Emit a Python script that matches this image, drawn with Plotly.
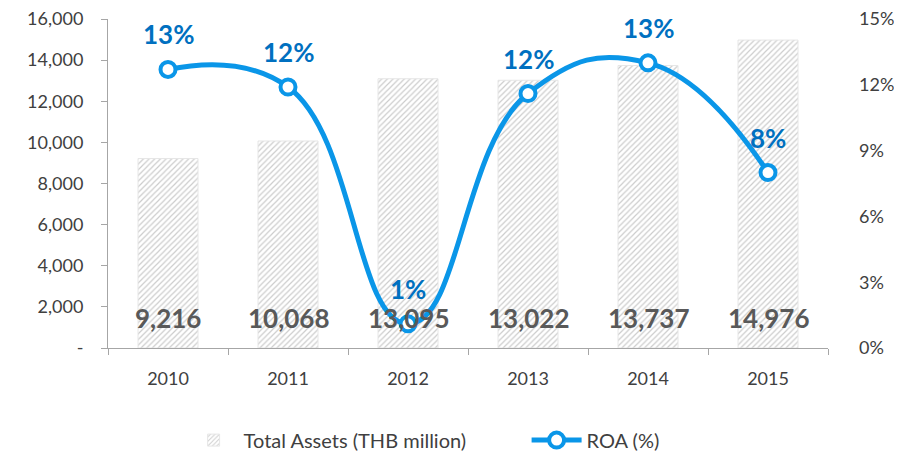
import plotly.graph_objects as go

years = ["2010", "2011", "2012", "2013", "2014", "2015"]
total_assets = [9216, 10068, 13095, 13022, 13737, 14976]
roa = [12.7, 11.9, 1.1, 11.6, 13.0, 8.0]

left_ticks = [0, 2000, 4000, 6000, 8000, 10000, 12000, 14000, 16000]
left_tick_text = ["-"] + [f"{v:,}" for v in left_ticks[1:]]
right_ticks = [0, 3, 6, 9, 12, 15]
right_tick_text = [f"{v}%" for v in right_ticks]

FONT = "Lato"
BLUE = "#0a96e8"

fig = go.Figure()

fig.add_trace(go.Bar(
    x=years, y=total_assets,
    name="Total Assets (THB million)",
    width=0.5,
    marker=dict(
        color="white",
        line=dict(color="#e6e6e6", width=1),
        pattern=dict(shape="/", fgcolor="#9a9a9a", bgcolor="white", size=4, solidity=0.3),
    ),
))

fig.add_trace(go.Scatter(
    x=years, y=roa,
    name="ROA (%)",
    yaxis="y2",
    mode="lines+markers",
    line=dict(color=BLUE, width=5, shape="spline", smoothing=1.3),
    marker=dict(size=15, color="white", line=dict(color=BLUE, width=4)),
))

# value labels: assets near the bar base, ROA above each point
# (x given as category index, since "2010" would be read as an index)
for i, v in enumerate(total_assets):
    fig.add_annotation(x=i, y=0, yref="y", text=f"<b>{v:,}</b>", showarrow=False,
                       yanchor="bottom", yshift=12,
                       font=dict(family=FONT, size=26, color="#595959"))
for i, v in enumerate(roa):
    fig.add_annotation(x=i, y=v, yref="y2", text=f"<b>{round(v)}%</b>", showarrow=False,
                       yanchor="middle", yshift=35,
                       font=dict(family=FONT, size=26, color="#0070c0"))

# page body has an 8px margin, so the figure is shrunk by that much
fig.update_layout(
    width=894, height=449,
    margin=dict(l=100, r=74, t=11, b=109, autoexpand=False),
    paper_bgcolor="white", plot_bgcolor="white",
    font=dict(family=FONT, size=18, color="#404040"),
    showlegend=True,
    legend=dict(orientation="h", x=0.105, xanchor="left", y=-0.28, yanchor="middle",
                font=dict(size=20, color="#404040"), itemwidth=50, entrywidth=278),
    xaxis=dict(
        type="category", range=[-0.5, 5.5], showline=True, linecolor="#a6a6a6", linewidth=1,
        ticks="outside", ticklen=6, tickcolor="#a6a6a6", tickson="boundaries",
        showgrid=False, ticklabelstandoff=14,
    ),
    yaxis=dict(
        range=[0, 16000], tickvals=left_ticks, ticktext=left_tick_text,
        showline=True, linecolor="#a6a6a6", linewidth=1,
        ticks="outside", ticklen=6, tickcolor="#a6a6a6",
        showgrid=False, zeroline=False, ticklabelstandoff=14,
        ticklabeloverflow="allow",
    ),
    yaxis2=dict(
        range=[0, 15], tickvals=right_ticks, ticktext=right_tick_text,
        overlaying="y", side="right", showline=False, showgrid=False,
        zeroline=False, ticklabelstandoff=30, ticklabeloverflow="allow",
    ),
)

fig.write_html("out.html")
